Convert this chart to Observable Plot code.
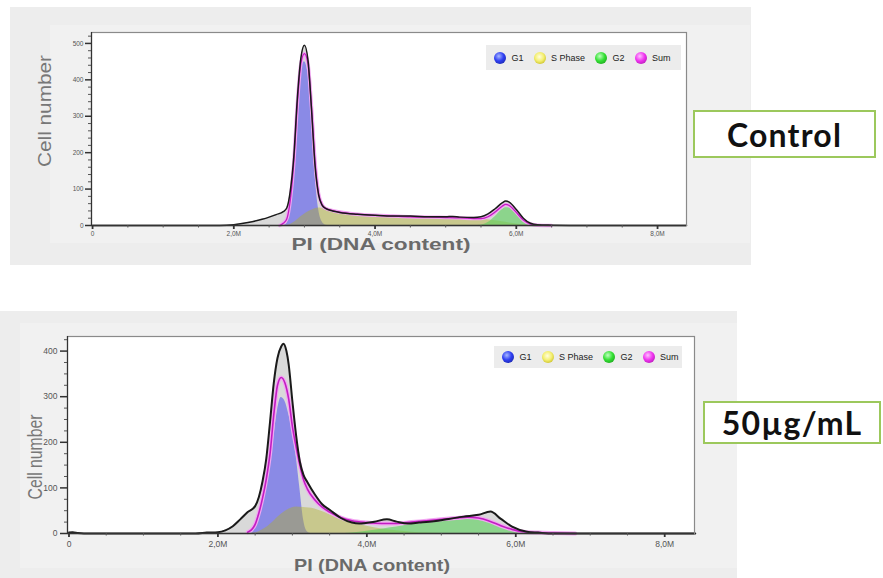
<!DOCTYPE html>
<html>
<head>
<meta charset="utf-8">
<script src="https://cdn.jsdelivr.net/npm/d3@7"></script>
<script src="https://cdn.jsdelivr.net/npm/@observablehq/plot@0.6"></script>
<style>
  html, body { margin: 0; padding: 0; }
  body { width: 883px; height: 578px; background: #fff; position: relative; overflow: hidden;
         font-family: Arial, "Liberation Sans", sans-serif; }
  .panel { position: absolute; background: #ededed; }
  .inner { position: absolute; background: #f1f1f1; }
  .chart { position: absolute; }
  .legend { position: absolute; background: #ececec; display: flex; align-items: center;
            font-size: 9px; color: #222; box-sizing: border-box; padding-left: 8px; }
  .legend .sw { width: 12px; height: 12px; border-radius: 50%; margin-right: 5.5px; flex: none; }
  .legend .nm { margin-right: 10px; white-space: nowrap; }
  .tag { position: absolute; box-sizing: border-box; border: 2px solid #9cc85c; background: #fff;
         display: flex; align-items: center; justify-content: center; letter-spacing: 1.2px;
         font-family: Lato, "Open Sans", sans-serif; font-weight: 700; color: #111; }
</style>
</head>
<body>
<div class="panel" style="left:10px;top:7px;width:741px;height:258px"></div>
<div class="inner" style="left:50px;top:25px;width:700px;height:218px"></div>
<div class="panel" style="left:0px;top:311px;width:737px;height:267px"></div>
<div class="inner" style="left:20px;top:323px;width:717px;height:245px"></div>
<div id="top" class="chart" style="left:40px;top:20px"></div>
<div id="bottom" class="chart" style="left:15px;top:325px"></div>
<div id="legTop" class="legend" style="left:486px;top:45px;width:195px;height:25px"></div>
<div id="legBottom" class="legend" style="left:494px;top:346px;width:188px;height:22px"></div>
<div class="tag" id="tagTop" style="left:693px;top:110px;width:183px;height:48px;font-size:32px"></div>
<div class="tag" id="tagBottom" style="left:703px;top:401px;width:178px;height:43px;font-size:32px"></div>
<script>
// ---- Cell-cycle histograms (PI DNA content, in millions) ----
// Each series is a list of [PI, cell count] points.

// Control sample
const ctrlRaw = [[0,0],[1.8,0],[2.0,2],[2.2,8],[2.4,17],[2.5,23],[2.6,30],[2.7,38],[2.75,48],[2.8,95],[2.85,190],[2.9,350],[2.95,460],[3.0,495],[3.05,455],[3.1,320],[3.15,165],[3.2,85],[3.25,56],[3.3,47],[3.4,40],[3.5,36],[3.75,31],[4.0,28],[4.25,26],[4.5,26],[4.75,24],[5.0,24],[5.1,25],[5.2,23],[5.4,22],[5.5,24],[5.6,32],[5.7,46],[5.8,62],[5.85,67],[5.9,64],[6.0,44],[6.1,20],[6.2,6],[6.3,2],[6.5,1],[7.0,0],[8.41,0]];
const ctrlG1 = [[2.7,0],[2.75,5],[2.8,55],[2.85,160],[2.9,320],[2.95,422],[3.0,450],[3.05,418],[3.1,295],[3.15,140],[3.2,45],[3.25,10],[3.3,1],[3.35,0]];
const ctrlS = [[2.75,0],[2.8,3],[2.85,8],[2.9,16],[2.95,24],[3.0,31],[3.05,37],[3.1,42],[3.15,46],[3.2,48],[3.25,47],[3.3,45],[3.4,41],[3.5,37],[3.75,31],[4.0,28],[4.25,26],[4.5,24],[4.75,23],[5.0,22],[5.2,21],[5.4,19],[5.5,18],[5.6,16],[5.7,13],[5.8,10],[5.9,7],[6.0,4],[6.1,2],[6.2,0]];
const ctrlG2 = [[5.4,0],[5.5,1],[5.6,8],[5.7,24],[5.8,43],[5.85,49],[5.9,48],[6.0,32],[6.1,13],[6.2,4],[6.3,1],[6.4,0]];
const ctrlSum = [[2.65,0],[2.7,6],[2.75,18],[2.8,70],[2.85,175],[2.9,335],[2.95,445],[3.0,472],[3.05,445],[3.1,325],[3.15,175],[3.2,88],[3.25,57],[3.3,47],[3.4,41],[3.5,37],[3.75,31],[4.0,28],[4.25,26],[4.5,24],[4.75,23],[5.0,22],[5.2,21],[5.4,19],[5.5,19],[5.6,24],[5.7,37],[5.8,53],[5.85,58],[5.9,55],[6.0,36],[6.1,15],[6.2,4],[6.3,1],[6.5,0]];

// 50 µg/mL treated sample
const trtRaw = [[0,2],[0.05,3],[0.12,1],[0.2,0],[1.7,0],[1.85,2],[2.0,3],[2.1,7],[2.2,16],[2.3,31],[2.4,47],[2.5,60],[2.55,80],[2.6,115],[2.65,165],[2.7,245],[2.75,330],[2.8,385],[2.85,410],[2.88,416],[2.92,400],[2.95,371],[3.0,290],[3.05,215],[3.1,158],[3.15,128],[3.2,113],[3.3,86],[3.4,64],[3.5,52],[3.65,34],[3.8,24],[3.9,22],[4.1,26],[4.27,31],[4.4,26],[4.55,22],[4.7,24],[4.9,27],[5.1,32],[5.3,37],[5.5,41],[5.66,48],[5.8,32],[5.95,15],[6.15,4],[6.3,2],[6.5,0],[8.41,0]];
const trtG1 = [[2.45,0],[2.5,12],[2.55,40],[2.6,70],[2.65,100],[2.7,145],[2.75,210],[2.8,270],[2.85,298],[2.9,290],[2.95,262],[3.0,222],[3.05,170],[3.1,100],[3.15,30],[3.2,4],[3.25,0]];
const trtS = [[2.45,0],[2.55,4],[2.65,13],[2.75,27],[2.85,42],[2.95,53],[3.05,58],[3.15,57],[3.3,54],[3.4,48],[3.5,41],[3.65,32],[3.8,24],[4.0,16],[4.2,10],[4.4,6],[4.6,3],[4.8,1],[5.0,0]];
const trtG2 = [[3.7,0],[3.9,3],[4.1,7],[4.3,12],[4.5,17],[4.7,23],[4.9,28],[5.1,32],[5.3,35],[5.4,35],[5.55,31],[5.7,24],[5.85,14],[6.0,7],[6.15,3],[6.3,1],[6.45,0]];
const trtSum = [[2.4,3],[2.45,8],[2.5,20],[2.55,45],[2.6,78],[2.65,120],[2.7,175],[2.75,260],[2.8,325],[2.85,342],[2.9,330],[2.95,295],[3.0,235],[3.05,190],[3.1,150],[3.15,118],[3.2,98],[3.3,74],[3.4,58],[3.5,47],[3.65,35],[3.8,28],[4.0,24],[4.2,22],[4.4,22],[4.6,25],[4.8,28],[5.0,31],[5.2,34],[5.35,36],[5.5,34],[5.65,27],[5.8,17],[5.95,9],[6.1,4],[6.3,2],[6.5,1],[6.8,0]];

// Axes
const xTicks = [0, 2, 4, 6, 8];
const xTickLabels = ["0", "2,0M", "4,0M", "6,0M", "8,0M"];
const ctrlYTicks = [0, 100, 200, 300, 400, 500];
const trtYTicks = [0, 100, 200, 300, 400];
const xLabel = "PI (DNA content)";
const yLabel = "Cell number";

// Legend and sample tags
const legendNames = ["G1", "S Phase", "G2", "Sum"];
const legendSpheres = [
  "radial-gradient(circle at 40% 35%, #a8b8ff 0%, #2f3ff2 45%, #14208c 100%)",
  "radial-gradient(circle at 45% 40%, #fffde0 0%, #f4ef70 45%, #b3a600 100%)",
  "radial-gradient(circle at 40% 35%, #c0ffc0 0%, #35e035 45%, #128c12 100%)",
  "radial-gradient(circle at 40% 35%, #ffc0ff 0%, #f035f0 45%, #9c109c 100%)"
];
const sampleTags = ["Control", "50µg/mL"];

const pt = {x: d => d[0], y: d => d[1], curve: "monotone-x"};

function histogram(s, o) {
  const svg = Plot.plot({
    width: o.width, height: o.height,
    marginLeft: o.ml, marginRight: o.mr, marginTop: o.mt, marginBottom: o.mb,
    x: {domain: o.xDomain},
    y: {domain: o.yDomain},
    style: {background: "transparent", overflow: "visible", fontFamily: "Arial, 'Liberation Sans', sans-serif"},
    marks: [
      Plot.frame({fill: "white", stroke: "none"}),
      Plot.areaY(s.raw, {...pt, fill: "#d9d9d9"}),
      Plot.areaY(s.g1, {...pt, fill: "#7676e8", fillOpacity: 0.8}),
      Plot.areaY(s.s, {...pt, fill: "rgb(177,177,35)", fillOpacity: 0.42}),
      Plot.areaY(s.g2, {...pt, fill: "#5cd05c", fillOpacity: 0.62}),
      Plot.lineY(s.sum, {...pt, stroke: "#f2a6f2", strokeWidth: o.sumHalo}),
      Plot.lineY(s.sum, {...pt, stroke: "#c21cc2", strokeWidth: o.sumWidth}),
      Plot.lineY(s.raw, {...pt, stroke: "#1a1a1a", strokeWidth: o.rawWidth}),
      Plot.frame({stroke: "#8a8a8a", strokeWidth: 1.2}),
      Plot.ruleX([o.xDomain[0]], {stroke: "#333", strokeWidth: 1.2}),
      Plot.ruleY([0], {stroke: "#333", strokeWidth: 1.4}),
      // minor ticks
      Plot.axisX(d3.range(0.5, 8.01, 0.5).filter(v => v % 2 !== 0), {tickSize: 2.5, stroke: "#555", tickFormat: () => "", label: null}),
      Plot.axisY(d3.range(0, o.yDomain[1], o.yMinor).filter(v => v % 100 !== 0), {tickSize: 3, stroke: "#555", tickFormat: () => "", label: null}),
      // major ticks
      Plot.axisX(xTicks, {tickSize: 4, strokeWidth: 1.8, stroke: "#333", tickPadding: o.xPad,
        tickFormat: d => xTickLabels[xTicks.indexOf(d)], fontSize: o.tickFont, fill: "#555", label: null}),
      Plot.axisY(o.yTicks, {tickSize: o.yTickSize, strokeWidth: 1.5, stroke: "#333", tickPadding: o.yPad,
        fontSize: o.tickFont, fill: "#555", label: null}),
      // axis titles
      Plot.text([xLabel], {frameAnchor: "bottom", lineAnchor: "middle", textAnchor: "middle", dx: o.xLabelDx, dy: o.xLabelDy,
        fontSize: o.xLabelFont, fontWeight: "bold", fill: "#6a6a6a"}),
      Plot.text([yLabel], {frameAnchor: "left", lineAnchor: "middle", textAnchor: "middle", dx: o.yLabelDx, dy: o.yLabelDy,
        rotate: -90, fontSize: o.yLabelFont, fill: "#777"})
    ]
  });
  // stretch the titles to the widths used by the instrument export
  d3.select(svg).selectAll("text").each(function () {
    if (this.textContent === xLabel) d3.select(this).attr("textLength", o.xLabelLen).attr("lengthAdjust", "spacingAndGlyphs");
    if (this.textContent === yLabel) d3.select(this).attr("textLength", o.yLabelLen).attr("lengthAdjust", "spacingAndGlyphs");
  });
  return svg;
}

document.getElementById("top").append(histogram(
  {raw: ctrlRaw, g1: ctrlG1, s: ctrlS, g2: ctrlG2, sum: ctrlSum},
  {width: 656, height: 235, ml: 51, mr: 10, mt: 12, mb: 30,
   xDomain: [-0.015, 8.41], yDomain: [0, 530], yTicks: ctrlYTicks, yMinor: 20,
   tickFont: 6.5, xPad: 2, yPad: 2, yTickSize: 6,
   rawWidth: 1.5, sumWidth: 1.3, sumHalo: 3.5,
   xLabelDx: -8, xLabelDy: 19.5, xLabelFont: 17, xLabelLen: 179,
   yLabelDx: -46, yLabelDy: -18, yLabelFont: 18, yLabelLen: 112}
));

document.getElementById("bottom").append(histogram(
  {raw: trtRaw, g1: trtG1, s: trtS, g2: trtG2, sum: trtSum},
  {width: 689, height: 248, ml: 52, mr: 10, mt: 11, mb: 40,
   xDomain: [-0.02, 8.40], yDomain: [0, 432], yTicks: trtYTicks, yMinor: 25,
   tickFont: 8.5, xPad: 3, yPad: 3, yTickSize: 7,
   rawWidth: 2, sumWidth: 1.6, sumHalo: 4,
   xLabelDx: -9, xLabelDy: 32, xLabelFont: 17, xLabelLen: 156,
   yLabelDx: -32, yLabelDy: 22, yLabelFont: 21, yLabelLen: 85}
));

function legend(id) {
  const el = document.getElementById(id);
  legendNames.forEach((name, i) => {
    const sw = document.createElement("span");
    sw.className = "sw";
    sw.style.background = legendSpheres[i];
    const nm = document.createElement("span");
    nm.className = "nm";
    nm.textContent = name;
    el.append(sw, nm);
  });
}
legend("legTop");
legend("legBottom");
document.getElementById("tagTop").textContent = sampleTags[0];
document.getElementById("tagBottom").textContent = sampleTags[1];
</script>
</body>
</html>
